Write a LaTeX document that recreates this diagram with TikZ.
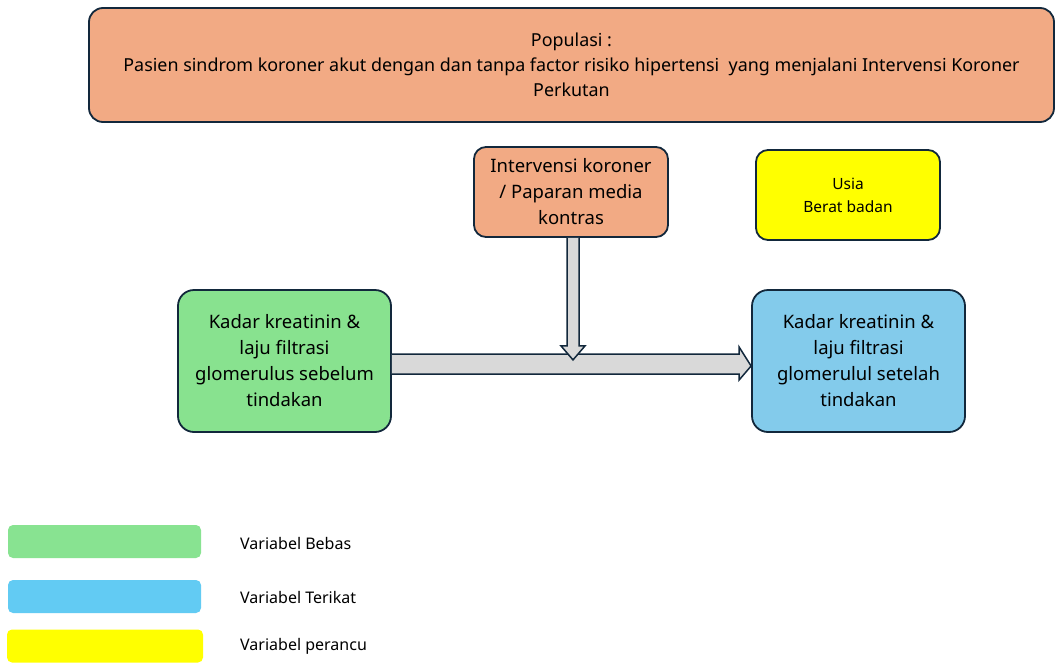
\documentclass[tikz,border=0pt]{standalone}
\usepackage{fontspec}
\setmainfont{Noto Sans}
\usetikzlibrary{calc}
\definecolor{salmon}{HTML}{F2AA84}
\definecolor{edge}{HTML}{12283C}
\definecolor{gbox}{HTML}{88E28F}
\definecolor{bbox}{HTML}{83CBEB}
\definecolor{lgreen}{HTML}{88E391}
\definecolor{lblue}{HTML}{62CBF3}
\definecolor{ylw}{HTML}{FFFF00}
\definecolor{arrowfill}{HTML}{D9D9D9}
\tikzset{
  x=1pt,y=-1pt,
  box/.style={draw=edge,line width=1.8pt,rounded corners=14pt,align=center,inner sep=0pt,font=\fontsize{18.5}{26}\selectfont},
  legbox/.style={rounded corners=5pt,inner sep=0pt},
  legtext/.style={anchor=west,inner sep=0pt,font=\fontsize{16}{18}\selectfont},
  fat/.style={draw=edge,line width=1.5pt,fill=arrowfill,line join=miter}
}
\begin{document}
\begin{tikzpicture}
\useasboundingbox (0,0) rectangle (1058,662);
% population
\node[box,fill=salmon,minimum width=965pt,minimum height=114pt,font=\fontsize{17.9}{25}\selectfont] (pop) at (571.5,65)
  {Populasi :\\Pasien sindrom koroner akut dengan dan tanpa factor risiko hipertensi\ \ yang menjalani Intervensi Koroner\\Perkutan};
% intervention
\node[box,fill=salmon,minimum width=194pt,minimum height=90pt,rounded corners=12pt] (int) at (571,192)
  {Intervensi koroner\\/ Paparan media\\kontras};
% confounders
\node[box,fill=ylw,minimum width=184pt,minimum height=90pt,rounded corners=12pt,font=\fontsize{15.5}{23}\selectfont] (conf) at (848,195)
  {Usia\\Berat badan};
% independent
\node[box,fill=gbox,minimum width=213pt,minimum height=142pt,rounded corners=16pt] (ind) at (284.5,361)
  {Kadar kreatinin \&\\laju filtrasi\\glomerulus sebelum\\tindakan};
% dependent
\node[box,fill=bbox,minimum width=213pt,minimum height=142pt,rounded corners=16pt] (dep) at (858.5,361)
  {Kadar kreatinin \&\\laju filtrasi\\glomerulul setelah\\tindakan};
% horizontal fat arrow
\draw[fat] ($(ind.east)+(0,-7)$) -- ($(dep.west)+(-12,-7)$) -- ($(dep.west)+(-12,-14)$)
  -- ($(dep.west)+(0,5)$) -- ($(dep.west)+(-12,19)$) -- ($(dep.west)+(-12,13)$)
  -- ($(ind.east)+(0,13)$);
\coordinate (tip) at ($(int.south)+(2,122)$);
% vertical fat arrow
\draw[fat] ($(int.south)+(-4,0)$) -- ($(tip)+(-6,-14)$) -- ($(tip)+(-12,-14)$) -- (tip)
  -- ($(tip)+(12,-14)$) -- ($(tip)+(6,-14)$) -- ($(int.south)+(8,0)$);
% legend
\node[legbox,fill=lgreen,minimum width=193pt,minimum height=33pt] (l1) at (104.5,541.5) {};
\node[legbox,fill=lblue,minimum width=193pt,minimum height=33pt] (l2) at (104.5,596.5) {};
\node[legbox,fill=ylw,minimum width=196pt,minimum height=33pt] (l3) at (105,646) {};
\node[legtext] (t1) at (240,543) {Variabel Bebas};
\node[legtext] (t2) at (240,597) {Variabel Terikat};
\node[legtext] (t3) at (240,646) {Variabel perancu};
\end{tikzpicture}
\end{document}
